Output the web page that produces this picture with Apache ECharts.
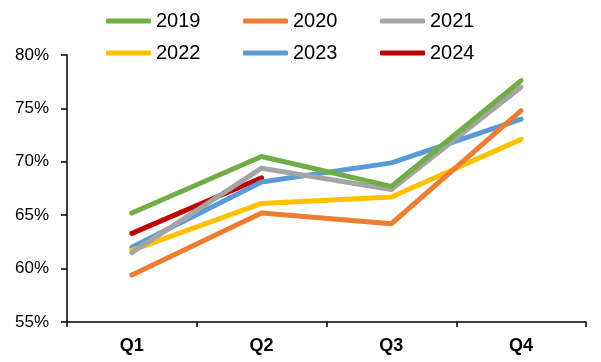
<!DOCTYPE html>
<html>
<head>
<meta charset="utf-8">
<style>html,body{margin:0;padding:0;background:#fff;}#c{width:601px;height:362px;}</style>
<script src="https://cdn.jsdelivr.net/npm/echarts@6/dist/echarts.min.js"></script>
</head>
<body>
<div id="c"></div>
<script>
var categories = ['Q1', 'Q2', 'Q3', 'Q4'];
var s2019 = [65.2, 70.5, 67.7, 77.6];
var s2020 = [59.4, 65.2, 64.2, 74.8];
var s2021 = [61.5, 69.4, 67.4, 77.0];
var s2022 = [61.7, 66.1, 66.7, 72.1];
var s2023 = [62.0, 68.1, 69.9, 74.0];
var s2024 = [63.3, 68.5];
var yTicks = {min: 55, max: 80, interval: 5};

var names = ['2019', '2020', '2021', '2022', '2023', '2024'];
var datas = [s2019, s2020, s2021, s2022, s2023, s2024];
var colors = ['#70AD47', '#ED7D31', '#A5A5A5', '#FFC000', '#5B9BD5', '#C00000'];

var chart = echarts.init(document.getElementById('c'));
var series = names.map(function (n, i) {
  return {
    name: n, type: 'line', data: datas[i], showSymbol: false, symbol: 'none',
    lineStyle: {width: 5, color: colors[i], cap: 'round', join: 'round'},
    itemStyle: {color: colors[i]},
    z: 10 - i
  };
});
var legendText = {fontFamily: 'Liberation Sans Narrow, Liberation Sans', fontSize: 20, color: '#000', width: 87, lineHeight: 20, padding: [0, 0, 0, 0]};
function mkLegend(items, top) {
  return {
    data: items, left: 106, top: top, orient: 'horizontal', itemGap: 0, padding: 0,
    itemWidth: 45, itemHeight: 5, icon: 'roundRect', textStyle: legendText
  };
}
chart.setOption({
  animation: false,
  legend: [mkLegend(['2019', '2020', '2021'], 11), mkLegend(['2022', '2023', '2024'], 43)],
  grid: {left: 67, right: 15, top: 55, bottom: 40, containLabel: false},
  xAxis: {
    type: 'category', data: categories, boundaryGap: true,
    axisLine: {lineStyle: {color: '#000', width: 1.5}},
    axisTick: {show: true, inside: false, length: 5, lineStyle: {color: '#000', width: 1.5}},
    axisLabel: {fontFamily: 'Liberation Sans Narrow, Liberation Sans', fontWeight: 'bold', fontSize: 18, color: '#000', margin: 15},
    splitLine: {show: false}
  },
  yAxis: {
    type: 'value', min: yTicks.min, max: yTicks.max, interval: yTicks.interval,
    axisLine: {show: true, lineStyle: {color: '#000', width: 1.5}},
    axisTick: {show: true, inside: false, length: 6, lineStyle: {color: '#000', width: 1.5}},
    axisLabel: {formatter: '{value}%', fontFamily: 'Liberation Sans', fontSize: 17, color: '#000', margin: 18},
    splitLine: {show: false}
  },
  series: series
});
</script>
</body>
</html>
